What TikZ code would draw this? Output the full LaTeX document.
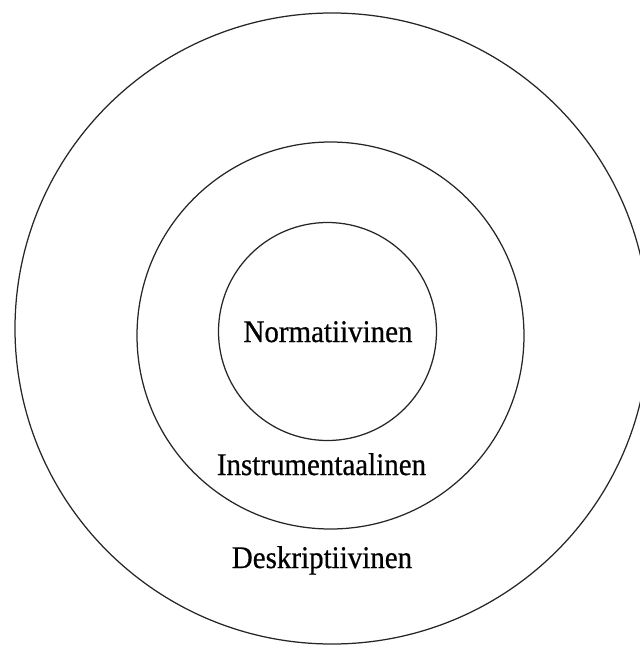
\documentclass[tikz,border=0pt]{standalone}
\usepackage{fontspec}
\setmainfont{Liberation Serif}
\newfontfamily\lblfont[FakeBold=0.6]{Liberation Serif}
\begin{document}
\begin{tikzpicture}[x=1pt,y=-1pt,
  ring/.style={draw=black!85,line width=1.25pt},
  lbl/.style={anchor=base,inner sep=0pt,font=\lblfont\fontsize{31.5}{37}\selectfont}]
\useasboundingbox (0,0) rectangle (640,646);
\clip (0,0) rectangle (640,646);
\draw[ring] (332,328.5) ellipse [x radius=317, y radius=315.5];
\draw[ring] (330.5,335.5) circle [radius=193.5];
\draw[ring] (327.5,331.5) circle [radius=109];
\node[lbl] (norm) at (328,342) {\scalebox{0.92}[1]{Normatiivinen}};
\node[lbl] (instr) at (321.5,475) {\scalebox{0.92}[1]{Instrumentaalinen}};
\node[lbl] (desk) at (322,568) {\scalebox{0.92}[1]{Deskriptiivinen}};
\end{tikzpicture}
\end{document}
